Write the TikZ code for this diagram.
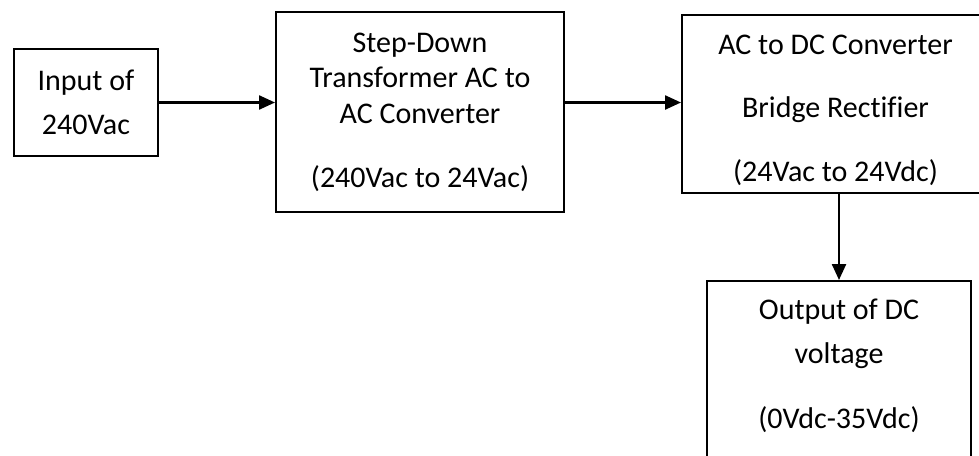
\documentclass[tikz,border=0pt]{standalone}
\usepackage{fontspec}
\setmainfont{Carlito}[Ligatures=CommonOff]
\usetikzlibrary{arrows.meta,positioning}

\begin{document}
\begin{tikzpicture}[
  font=\fontsize{15}{17.7}\selectfont,
  blk/.style={draw,line width=1pt,align=center,inner sep=0pt,fill=white},
  arr/.style={-{Triangle[length=8pt,width=7pt]},line width=1.2pt}
]
\path[use as bounding box,clip] (0,0) rectangle (489.5pt,-227.5pt);

% ---- mains side ----
\node[blk,minimum width=72pt,minimum height=53.5pt] (input) at (43pt,-51.25pt) {Input of\\[4.3pt]240Vac};
\node[blk,minimum width=144pt,minimum height=100pt,right=58pt of input,yshift=-4.75pt] (xfmr)
  {Step-Down\\Transformer AC to\\AC Converter\\[14.3pt](240Vac to 24Vac)};
\node[blk,minimum width=153.5pt,minimum height=89pt,right=58pt of xfmr,yshift=4pt] (rect)
  {\rule{0pt}{16pt}AC to DC Converter\\[14pt]Bridge Rectifier\\[14pt](24Vac to 24Vdc)};
\draw[arr] (input.east) -- (input.east -| xfmr.west);
\draw[arr] (xfmr.east |- input.east) -- (rect.west |- input.east);

% ---- DC output ----
\node[blk,minimum width=132pt,inner ysep=9pt,below=43pt of rect,xshift=1.75pt] (dcout)
  {Output of DC\\[4.3pt]voltage\\[14.8pt](0Vdc-35Vdc)\\[13pt]\mbox{}};
\draw[arr] (dcout.north |- rect.south) -- (dcout.north);
\end{tikzpicture}
\end{document}
